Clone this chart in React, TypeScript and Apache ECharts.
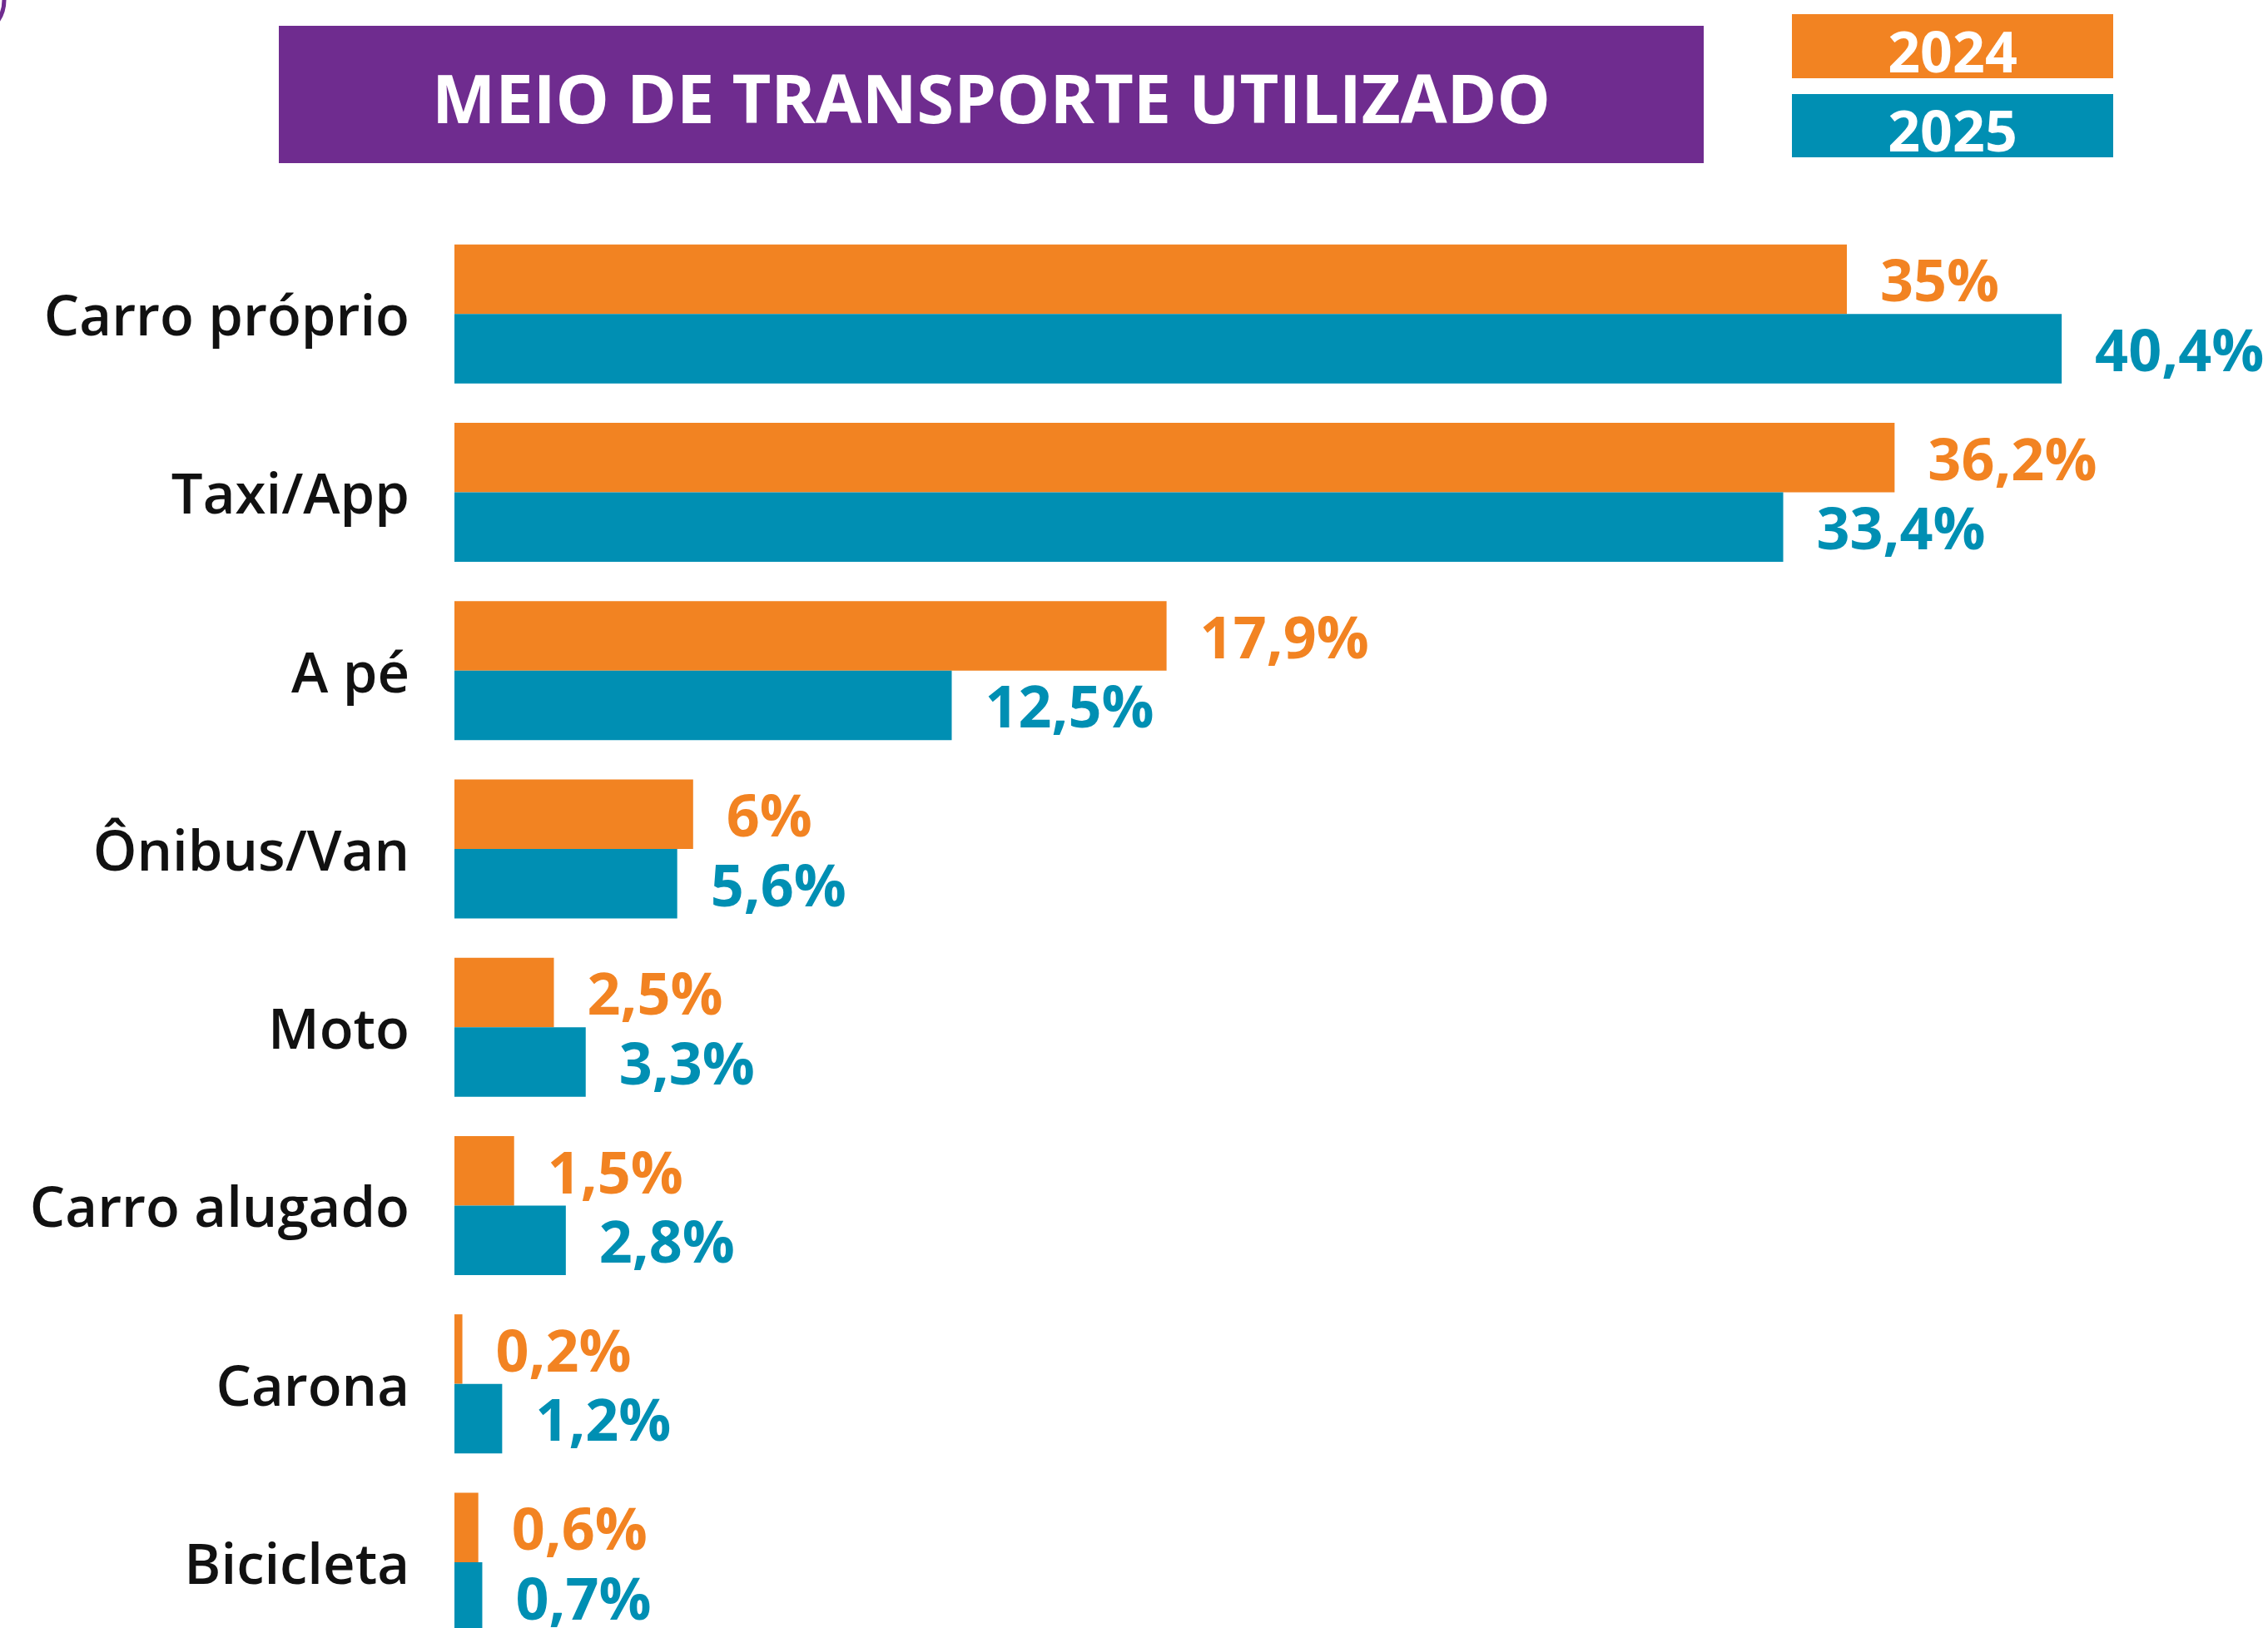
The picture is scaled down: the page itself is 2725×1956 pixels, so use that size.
import React, { useEffect, useRef } from "react";
import * as echarts from "echarts";

const categories = [
  "Carro próprio",
  "Taxi/App",
  "A pé",
  "Ônibus/Van",
  "Moto",
  "Carro alugado",
  "Carona",
  "Bicicleta",
];
const values2024 = [35, 36.2, 17.9, 6, 2.5, 1.5, 0.2, 0.6];
const values2025 = [40.4, 33.4, 12.5, 5.6, 3.3, 2.8, 1.2, 0.7];
const seriesNames = ["2024", "2025"];
const title = "MEIO DE TRANSPORTE UTILIZADO";

const ORANGE = "#F28322";
const TEAL = "#008FB3";
const PURPLE = "#6F2C8F";
const FONT = "'Open Sans', 'Noto Sans', sans-serif";

const fmt = (v: number) => String(v).replace(".", ",") + "%";

export default function App() {
  const ref = useRef<HTMLDivElement>(null);
  useEffect(() => {
    if (!ref.current) return;
    const chart = echarts.init(ref.current, null, { renderer: "svg" });
    const labelStyle = (color: string) => ({
      show: true,
      position: "right" as const,
      distance: 40,
      color,
      fontFamily: FONT,
      fontWeight: "bold" as const,
      fontSize: 70,
      lineHeight: 60,
      formatter: (p: any) => fmt(p.value),
    });
    chart.setOption({
      animation: false,
      backgroundColor: "#ffffff",
      grid: { left: 546, top: 270, width: 2151, height: 1714 },
      xAxis: {
        type: "value",
        min: 0,
        max: 45,
        show: false,
      },
      yAxis: {
        type: "category",
        data: categories,
        inverse: true,
        axisLine: { show: false },
        axisTick: { show: false },
        splitLine: { show: false },
        axisLabel: {
          margin: 54,
          color: "#111111",
          fontFamily: FONT,
          fontWeight: 600,
          fontSize: 67,
        },
      },
      series: [
        {
          name: seriesNames[0],
          type: "bar",
          data: values2024,
          barWidth: 83.5,
          barGap: "0%",
          itemStyle: { color: ORANGE },
          label: labelStyle(ORANGE),
        },
        {
          name: seriesNames[1],
          type: "bar",
          data: values2025,
          barWidth: 83.5,
          barGap: "0%",
          itemStyle: { color: TEAL },
          label: labelStyle(TEAL),
        },
      ],
      graphic: [
        {
          type: "arc",
          shape: { cx: -40, cy: 0, r: 45, startAngle: 0, endAngle: Math.PI / 2 },
          style: { stroke: PURPLE, lineWidth: 5, fill: "none" },
        },
        {
          type: "rect",
          shape: { x: 335, y: 31, width: 1712, height: 165 },
          style: { fill: PURPLE },
        },
        {
          type: "text",
          x: 1191,
          y: 116,
          style: {
            text: title,
            fill: "#ffffff",
            font: `bold 81px ${FONT}`,
            align: "center",
            verticalAlign: "middle",
          },
        },
        {
          type: "rect",
          shape: { x: 2153, y: 17, width: 386, height: 77 },
          style: { fill: ORANGE },
        },
        {
          type: "text",
          x: 2346,
          y: 60,
          style: {
            text: seriesNames[0],
            fill: "#ffffff",
            font: `bold 68px ${FONT}`,
            align: "center",
            verticalAlign: "middle",
          },
        },
        {
          type: "rect",
          shape: { x: 2153, y: 113, width: 386, height: 76 },
          style: { fill: TEAL },
        },
        {
          type: "text",
          x: 2346,
          y: 155,
          style: {
            text: seriesNames[1],
            fill: "#ffffff",
            font: `bold 68px ${FONT}`,
            align: "center",
            verticalAlign: "middle",
          },
        },
      ],
    });
    return () => chart.dispose();
  }, []);
  return (
    <div
      style={{
        position: "absolute",
        left: 0,
        top: 0,
        width: 2725,
        height: 1956,
        overflow: "hidden",
      }}
    >
      <div ref={ref} style={{ width: 2725, height: 2000 }} />
    </div>
  );
}
